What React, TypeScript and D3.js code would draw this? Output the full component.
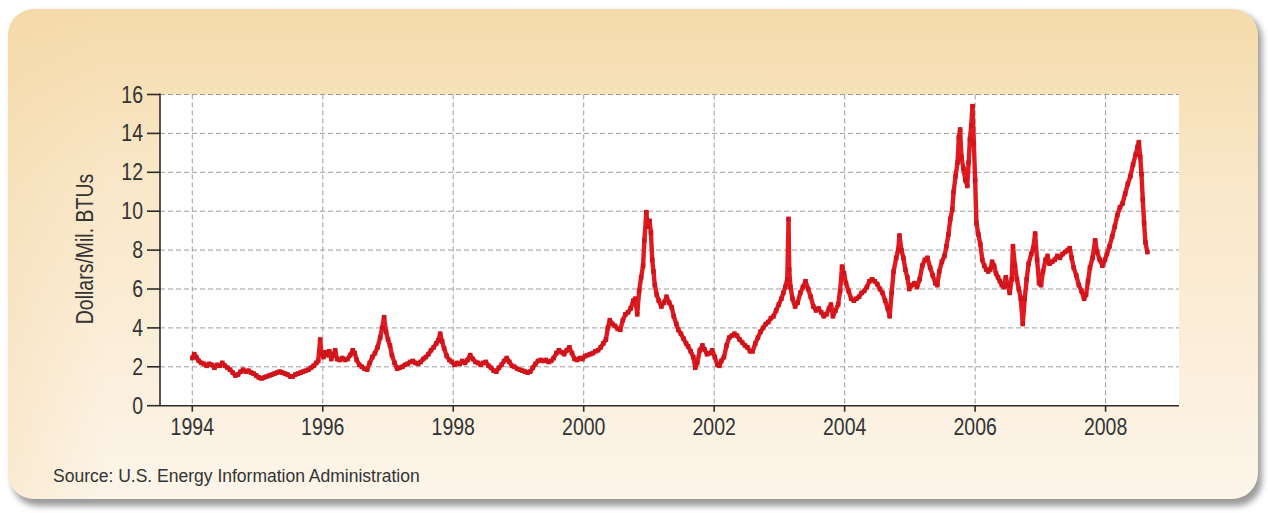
import React from "react";
import * as d3 from "d3";

// Weekly-ish natural gas price (Dollars/Mil. BTUs), decimal years
const years: number[] = [
  1994.00,1994.03,1994.06,1994.10,1994.14,1994.18,1994.22,1994.26,1994.30,1994.34,1994.38,1994.42,1994.46,1994.50,1994.54,1994.58,1994.62,1994.66,1994.70,1994.74,1994.78,1994.82,1994.86,1994.90,1994.94,1994.98,
  1995.02,1995.06,1995.10,1995.14,1995.18,1995.22,1995.26,1995.30,1995.34,1995.38,1995.42,1995.46,1995.50,1995.54,1995.58,1995.62,1995.66,1995.70,1995.74,1995.78,1995.82,1995.86,1995.90,1995.93,1995.96,1995.98,
  1996.01,1996.04,1996.07,1996.10,1996.13,1996.16,1996.19,1996.22,1996.26,1996.30,1996.34,1996.38,1996.42,1996.46,1996.49,1996.52,1996.56,1996.60,1996.64,1996.68,1996.72,1996.76,1996.80,1996.84,1996.88,1996.91,1996.94,1996.97,
  1997.00,1997.03,1997.06,1997.10,1997.14,1997.18,1997.22,1997.26,1997.30,1997.34,1997.38,1997.42,1997.46,1997.50,1997.54,1997.58,1997.62,1997.66,1997.70,1997.74,1997.77,1997.80,1997.83,1997.86,1997.90,1997.94,1997.98,
  1998.02,1998.06,1998.10,1998.14,1998.18,1998.22,1998.26,1998.30,1998.34,1998.38,1998.42,1998.46,1998.50,1998.54,1998.58,1998.62,1998.66,1998.70,1998.74,1998.78,1998.82,1998.86,1998.90,1998.94,1998.98,
  1999.02,1999.06,1999.10,1999.14,1999.18,1999.22,1999.26,1999.30,1999.34,1999.38,1999.42,1999.46,1999.50,1999.54,1999.58,1999.62,1999.66,1999.70,1999.74,1999.78,1999.82,1999.86,1999.90,1999.94,1999.98,
  2000.02,2000.06,2000.10,2000.14,2000.18,2000.22,2000.26,2000.30,2000.34,2000.37,2000.40,2000.44,2000.48,2000.52,2000.56,2000.60,2000.64,2000.68,2000.72,2000.76,2000.79,2000.82,2000.85,2000.88,2000.91,2000.93,2000.96,2000.98,
  2001.01,2001.03,2001.05,2001.07,2001.09,2001.12,2001.15,2001.19,2001.23,2001.27,2001.31,2001.35,2001.38,2001.42,2001.45,2001.49,2001.53,2001.57,2001.60,2001.64,2001.68,2001.71,2001.74,2001.78,2001.82,2001.85,2001.89,2001.93,2001.97,
  2002.01,2002.05,2002.08,2002.11,2002.15,2002.19,2002.23,2002.27,2002.31,2002.35,2002.39,2002.43,2002.47,2002.51,2002.55,2002.59,2002.63,2002.67,2002.71,2002.75,2002.79,2002.83,2002.87,2002.91,2002.95,2002.99,
  2003.03,2003.06,2003.09,2003.12,2003.14,2003.15,2003.17,2003.20,2003.24,2003.28,2003.32,2003.36,2003.40,2003.44,2003.48,2003.52,2003.56,2003.60,2003.64,2003.68,2003.72,2003.76,2003.79,2003.82,2003.86,2003.90,2003.93,2003.96,2003.99,
  2004.02,2004.06,2004.10,2004.14,2004.18,2004.22,2004.26,2004.30,2004.34,2004.38,2004.42,2004.46,2004.50,2004.54,2004.58,2004.62,2004.66,2004.69,2004.72,2004.75,2004.79,2004.82,2004.84,2004.87,2004.90,2004.93,2004.96,2004.99,
  2005.03,2005.07,2005.11,2005.15,2005.19,2005.23,2005.27,2005.31,2005.35,2005.39,2005.42,2005.45,2005.49,2005.53,2005.56,2005.59,2005.62,2005.65,2005.67,2005.70,2005.73,2005.75,2005.77,2005.79,2005.82,2005.85,2005.88,2005.90,2005.92,2005.94,2005.96,2005.98,
  2006.00,2006.02,2006.05,2006.08,2006.11,2006.14,2006.17,2006.20,2006.23,2006.26,2006.29,2006.32,2006.35,2006.38,2006.41,2006.44,2006.47,2006.50,2006.53,2006.56,2006.58,2006.61,2006.64,2006.67,2006.70,2006.73,2006.76,2006.79,2006.82,2006.86,2006.89,2006.92,2006.95,2006.98,
  2007.01,2007.04,2007.08,2007.11,2007.14,2007.18,2007.22,2007.26,2007.30,2007.34,2007.38,2007.42,2007.45,2007.48,2007.51,2007.55,2007.59,2007.63,2007.67,2007.70,2007.73,2007.76,2007.80,2007.84,2007.87,2007.91,2007.95,2007.99,
  2008.02,2008.06,2008.10,2008.14,2008.18,2008.22,2008.26,2008.30,2008.34,2008.38,2008.42,2008.46,2008.49,2008.51,2008.53,2008.55,2008.57,2008.59,2008.61,2008.64,
];

const prices: number[] = [
  2.45,2.65,2.5,2.3,2.2,2.15,2.05,2.15,2.1,1.95,2.1,2.05,2.2,2.05,1.95,1.85,1.7,1.55,1.6,1.75,1.85,1.75,1.8,1.7,1.65,1.55,
  1.45,1.4,1.45,1.5,1.55,1.6,1.65,1.7,1.75,1.7,1.65,1.6,1.5,1.5,1.6,1.65,1.7,1.75,1.8,1.85,1.95,2.05,2.2,2.3,3.4,2.7,
  2.5,2.75,2.6,2.8,2.4,2.6,2.85,2.4,2.35,2.45,2.35,2.4,2.6,2.85,2.7,2.35,2.1,2.0,1.9,1.85,2.2,2.5,2.7,3.0,3.5,4.0,4.55,3.8,
  3.4,3.1,2.6,2.2,1.9,1.95,2.0,2.1,2.15,2.25,2.3,2.2,2.15,2.25,2.4,2.5,2.65,2.85,3.0,3.2,3.35,3.7,3.3,2.95,2.55,2.35,2.25,
  2.1,2.2,2.15,2.3,2.2,2.35,2.6,2.4,2.25,2.2,2.1,2.2,2.25,2.05,1.95,1.8,1.75,1.95,2.1,2.3,2.45,2.25,2.05,2.0,1.9,
  1.85,1.8,1.75,1.7,1.75,1.95,2.15,2.3,2.35,2.3,2.35,2.25,2.3,2.45,2.7,2.85,2.75,2.65,2.85,3.0,2.7,2.4,2.35,2.45,2.4,
  2.55,2.6,2.65,2.7,2.8,2.85,3.0,3.2,3.4,4.0,4.4,4.2,4.1,3.95,3.9,4.4,4.7,4.8,5.0,5.4,5.5,4.7,5.9,6.6,7.2,8.5,9.95,9.2,
  9.5,8.9,7.5,6.9,6.2,5.7,5.4,5.1,5.3,5.6,5.3,5.05,4.6,4.2,3.9,3.7,3.45,3.2,3.05,2.8,2.5,1.95,2.2,2.85,3.1,2.9,2.65,2.7,2.85,
  2.5,2.1,2.05,2.3,2.5,3.1,3.5,3.6,3.7,3.6,3.4,3.25,3.1,3.0,2.8,2.8,3.2,3.5,3.8,4.0,4.2,4.3,4.5,4.6,4.9,5.2,
  5.5,5.8,6.1,6.5,9.6,7.0,6.1,5.5,5.1,5.3,5.8,6.1,6.4,6.0,5.6,5.1,4.9,5.0,4.8,4.6,4.7,5.0,5.2,4.6,4.9,5.2,5.9,7.15,6.8,
  6.3,5.9,5.5,5.4,5.5,5.6,5.8,5.9,6.1,6.4,6.5,6.4,6.25,6.0,5.8,5.4,5.0,4.6,5.8,6.9,7.6,8.0,8.75,8.0,7.6,7.0,6.6,6.0,
  6.2,6.3,6.1,6.5,7.2,7.5,7.6,7.1,6.7,6.3,6.2,6.9,7.4,7.7,8.2,8.8,9.6,10.1,11.0,11.8,12.5,13.8,14.2,12.8,12.2,11.6,11.3,12.5,13.7,14.4,15.4,13.5,
  11.6,9.4,8.8,8.3,7.5,7.2,7.0,6.9,7.0,7.4,7.2,6.8,6.6,6.4,6.2,6.1,6.6,6.2,5.8,6.5,8.2,7.2,6.5,6.0,5.5,4.2,5.5,6.5,7.3,7.8,8.1,8.85,7.5,6.3,
  6.2,6.9,7.5,7.7,7.3,7.4,7.5,7.7,7.6,7.8,7.9,8.0,8.1,7.6,7.1,6.7,6.2,5.9,5.5,5.7,6.4,7.1,7.6,8.5,7.9,7.5,7.2,7.5,
  7.8,8.2,8.7,9.2,9.8,10.2,10.4,10.9,11.4,11.8,12.4,12.9,13.3,13.55,12.8,11.9,10.6,9.4,8.4,7.9,
];

const yTicks: number[] = [0, 2, 4, 6, 8, 10, 12, 14, 16];
const xTicks: number[] = [1994, 1996, 1998, 2000, 2002, 2004, 2006, 2008];
const yTitle = "Dollars/Mil. BTUs";
const sourceText = "Source: U.S. Energy Information Administration";

const W = 1268;
const H = 513;
const left = 160, right = 1179, top = 94.5, bottom = 405.7;
const FONT = "'Liberation Sans', Arial, Helvetica, sans-serif";
const TEXT = "#333";
const STRETCH = 1.18;

export default function App() {
  const x = d3.scaleLinear().domain([1993.505, 2009.125]).range([left, right]);
  const y = d3.scaleLinear().domain([0, 16]).range([bottom, top]);
  const pts = years.map((yr, i) => [yr, prices[i]] as [number, number]);
  const line = d3
    .line<[number, number]>()
    .x((d) => x(d[0]))
    .y((d) => y(d[1]));

  return (
    <svg
      width={W}
      height={H}
      style={{ position: "absolute", left: 0, top: 0, display: "block" }}
    >
      <defs>
        <linearGradient id="bg" x1="0" y1="0" x2="0" y2="1">
          <stop offset="0%" stopColor="#f5dbab" />
          <stop offset="35%" stopColor="#f9e7c8" />
          <stop offset="100%" stopColor="#fdf5ea" />
        </linearGradient>
        <linearGradient id="bgh" x1="0" y1="0" x2="1" y2="0">
          <stop offset="0%" stopColor="#f3d6a4" stopOpacity="0.35" />
          <stop offset="8%" stopColor="#f3d6a4" stopOpacity="0" />
          <stop offset="100%" stopColor="#f3d6a4" stopOpacity="0" />
        </linearGradient>
        <filter id="shadow" x="-5%" y="-5%" width="110%" height="115%">
          <feGaussianBlur stdDeviation="3" />
        </filter>
      </defs>
      <rect x={0} y={0} width={W} height={H} fill="#ffffff" />
      <rect x={12} y={13} width={1250} height={493} rx={26} fill="#9a9a9a" filter="url(#shadow)" />
      <rect x={8} y={9} width={1250} height={490} rx={26} fill="url(#bg)" />
      <rect x={8} y={9} width={1250} height={490} rx={26} fill="url(#bgh)" />

      {/* plot area */}
      <rect x={left} y={top} width={right - left} height={bottom - top} fill="#ffffff" />

      {/* grid */}
      <g stroke="#9d9d9d" strokeWidth={1} strokeDasharray="5,3">
        {yTicks.filter((t) => t > 0).map((t) => (
          <line key={"gy" + t} x1={left} x2={right} y1={y(t)} y2={y(t)} />
        ))}
        {xTicks.map((t) => (
          <line key={"gx" + t} x1={x(t)} x2={x(t)} y1={top} y2={bottom} />
        ))}
      </g>

      {/* series */}
      <path
        d={line(pts) || ""}
        fill="none"
        stroke="#e01a20"
        strokeWidth={4.4}
        strokeLinejoin="round"
        strokeLinecap="round"
      />
      <g fill="#cf151b">
        {pts.map((d, i) => (
          <rect key={i} x={x(d[0]) - 2.3} y={y(d[1]) - 2.3} width={4.6} height={4.6} />
        ))}
      </g>

      {/* axes */}
      <g stroke="#2b2b2b" strokeWidth={1.6}>
        <line x1={left} x2={left} y1={top - 1} y2={bottom} />
        <line x1={left} x2={right} y1={bottom} y2={bottom} />
        {yTicks.map((t) => (
          <line key={"ty" + t} x1={left - 13} x2={left} y1={y(t)} y2={y(t)} />
        ))}
        {xTicks.map((t) => (
          <line key={"tx" + t} x1={x(t)} x2={x(t)} y1={bottom} y2={bottom + 6} />
        ))}
      </g>

      <g fontFamily={FONT} fontSize={19.5} fill={TEXT}>
        {yTicks.map((t) => (
          <text
            key={"ly" + t}
            transform={`translate(${left - 17},${y(t)}) scale(1,${STRETCH})`}
            dy="0.35em"
            textAnchor="end"
          >
            {t}
          </text>
        ))}
        {xTicks.map((t) => (
          <text
            key={"lx" + t}
            transform={`translate(${x(t)},435) scale(1,${STRETCH})`}
            textAnchor="middle"
          >
            {t}
          </text>
        ))}
      </g>

      <text
        transform={`translate(93, 249) rotate(-90) scale(1,${STRETCH})`}
        textAnchor="middle"
        fontFamily={FONT}
        fontSize={19.5}
        fill={TEXT}
      >
        {yTitle}
      </text>

      <text x={53} y={482} fontFamily={FONT} fontSize={17.5} fill={TEXT}>
        {sourceText}
      </text>
    </svg>
  );
}
